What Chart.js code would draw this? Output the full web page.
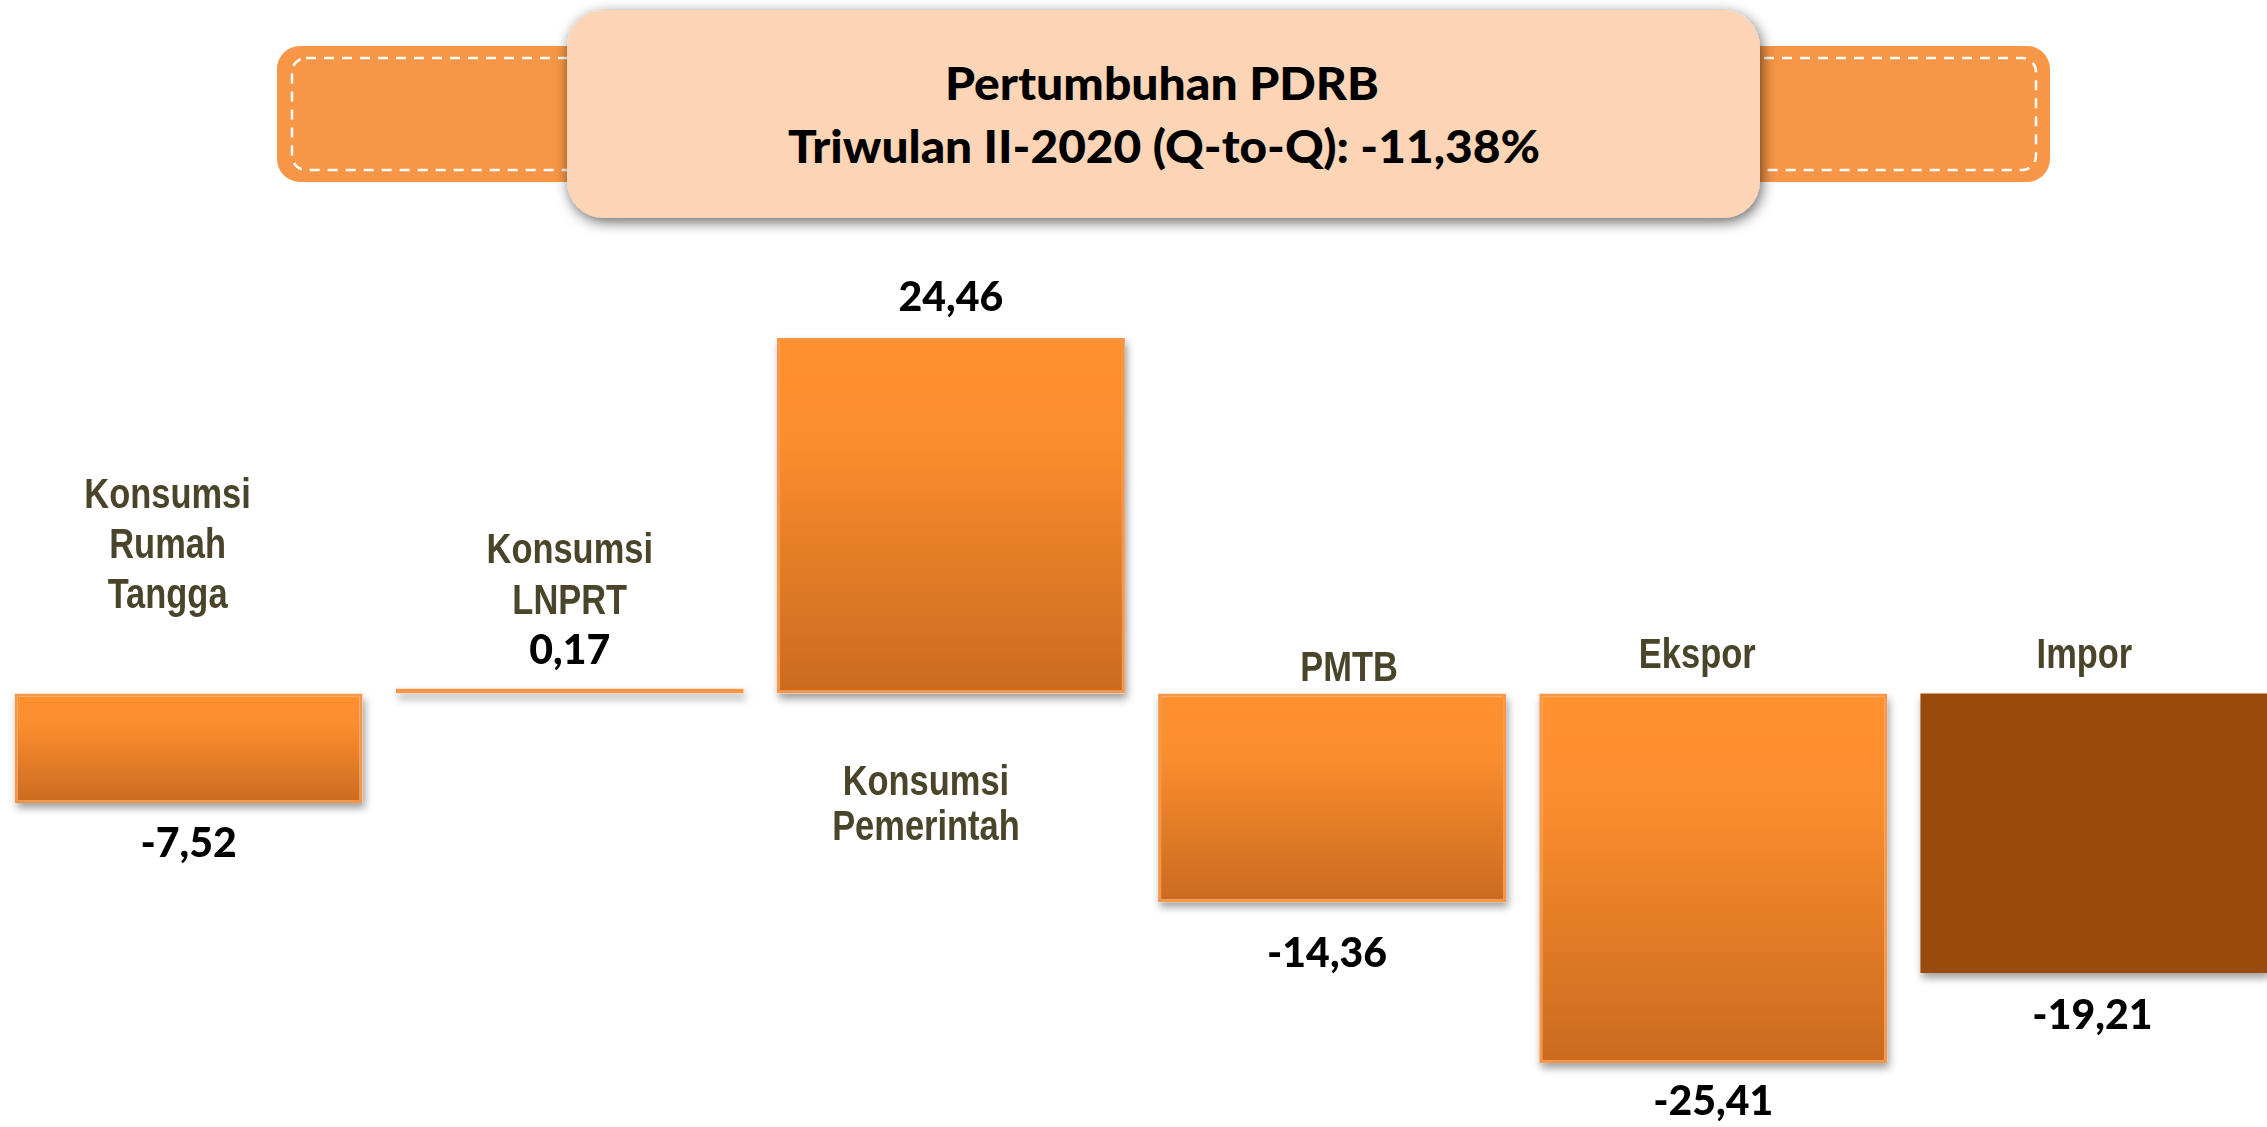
<!DOCTYPE html>
<html>
<head>
<meta charset="utf-8">
<script src="https://cdn.jsdelivr.net/npm/chart.js@4.4.1/dist/chart.umd.min.js"></script>
<style>
  html, body { margin: 0; padding: 0; background: #fff; overflow: hidden; }
  #wrap { position: relative; width: 2267px; height: 1127px; overflow: hidden; }
  #banner { position: absolute; left: 0; top: 0; z-index: 0; }
  #chart { position: absolute; left: -2px; top: 0; z-index: 1; }
</style>
</head>
<body>
<div id="wrap">
  <svg id="banner" width="2267" height="260" xmlns="http://www.w3.org/2000/svg">
    <defs>
      <filter id="shade" x="-10%" y="-30%" width="120%" height="160%">
        <feDropShadow dx="2" dy="4" stdDeviation="7" flood-color="#000" flood-opacity="0.6"/>
      </filter>
    </defs>
    <rect x="277" y="46" width="1773" height="136" rx="23" fill="#F79646"/>
    <rect x="292" y="58" width="1744" height="112" rx="14" fill="none" stroke="#fff" stroke-width="2.5" stroke-dasharray="10 8"/>
    <rect x="567" y="10" width="1193" height="208" rx="37" fill="#FBD5B5" filter="url(#shade)"/>
    <text id="t1" x="1162" y="100" text-anchor="middle" textLength="434" lengthAdjust="spacingAndGlyphs"
          font-family="Lato, 'Open Sans', sans-serif" font-weight="900" font-size="45" fill="#000"></text>
    <text id="t2" x="1164" y="163" text-anchor="middle" textLength="752" lengthAdjust="spacingAndGlyphs"
          font-family="Lato, 'Open Sans', sans-serif" font-weight="900" font-size="45" fill="#000"></text>
  </svg>
  <canvas id="chart" width="2287" height="1127"></canvas>
</div>
<script>
// Pertumbuhan PDRB menurut pengeluaran, Q-to-Q (%)
const titleLines = ['Pertumbuhan PDRB', 'Triwulan II-2020 (Q-to-Q): -11,38%'];
const categories = [
    ['Konsumsi', 'Rumah', 'Tangga'],
    ['Konsumsi', 'LNPRT'],
    ['Konsumsi', 'Pemerintah'],
    ['PMTB'],
    ['Ekspor'],
    ['Impor']
];
const growth = [-7.52, 0.17, 24.46, -14.36, -25.41, -19.21];

document.getElementById('t1').textContent = titleLines[0];
document.getElementById('t2').textContent = titleLines[1];

const orangeTop = '#FF912F';
const orangeBottom = '#CB6A1F';
const imporColor = '#9A4A0A';

function fmt(v) {
    return v.toFixed(2).replace('.', ',');
}

// soft drop shadow behind every bar
const barShadow = {
    id: 'barShadow',
    beforeDatasetsDraw(chart) {
        const ctx = chart.ctx;
        const meta = chart.getDatasetMeta(0);
        ctx.save();
        ctx.shadowColor = 'rgba(0,0,0,0.38)';
        ctx.shadowBlur = 8;
        ctx.shadowOffsetX = 2;
        ctx.shadowOffsetY = 5;
        ctx.fillStyle = '#fff';
        meta.data.forEach(bar => {
            const p = bar.getProps(['x', 'y', 'base', 'width'], true);
            const top = Math.min(p.y, p.base);
            const h = Math.max(Math.abs(p.base - p.y), 5);
            ctx.fillRect(p.x - p.width / 2, top, p.width, h);
        });
        ctx.restore();
    }
};

// value labels and category names
const barLabels = {
    id: 'barLabels',
    afterDatasetsDraw(chart, args, opts) {
        const ctx = chart.ctx;
        const meta = chart.getDatasetMeta(0);
        const xScale = chart.scales.x;
        ctx.save();
        ctx.textAlign = 'center';

        // values
        ctx.fillStyle = '#000';
        ctx.font = '900 41px Lato, "Open Sans", sans-serif';
        ctx.textBaseline = 'middle';
        meta.data.forEach((bar, i) => {
            const p = bar.getProps(['x', 'y', 'base'], true);
            const v = growth[i];
            const end = v >= 0 ? Math.min(p.y, p.base - 5) : p.y;
            const y = v >= 0 ? end - opts.valueGap[i] : end + opts.valueGap[i];
            ctx.fillText(fmt(v), p.x + opts.valueDx[i], y);
        });

        // category names (narrow bold sans)
        ctx.fillStyle = '#4A452A';
        ctx.font = 'bold 42px "Liberation Sans", Arial, sans-serif';
        ctx.textBaseline = 'alphabetic';
        categories.forEach((lines, i) => {
            const cx = xScale.getPixelForValue(i) + opts.nameDx[i];
            lines.forEach((line, k) => {
                const y = opts.nameY[i] + k * opts.nameStep[i];
                ctx.save();
                ctx.translate(cx, y);
                ctx.scale(0.82, 1);
                ctx.fillText(line, 0, 0);
                ctx.restore();
            });
        });
        ctx.restore();
    }
};

const ctx = document.getElementById('chart').getContext('2d');
new Chart(ctx, {
    type: 'bar',
    data: {
        labels: categories.map(c => c.join(' ')),
        datasets: [{
            data: growth,
            backgroundColor: (c) => {
                if (c.dataIndex === 5) return imporColor;
                const yScale = c.chart.scales.y;
                if (!yScale || c.type !== 'data') return orangeTop;
                const v = growth[c.dataIndex];
                const top = yScale.getPixelForValue(Math.max(v, 0));
                let bottom = yScale.getPixelForValue(Math.min(v, 0));
                if (!isFinite(top) || !isFinite(bottom)) return orangeTop;
                if (bottom - top < 5) bottom = top + 5;
                const g = c.chart.ctx.createLinearGradient(0, top, 0, bottom);
                g.addColorStop(0, orangeTop);
                g.addColorStop(0.3, '#FA8D2E');
                g.addColorStop(1, orangeBottom);
                return g;
            },
            borderColor: ['#F79646', '#F79646', '#F79646', '#F79646', '#F79646', imporColor],
            borderWidth: [3, 3, 3, 3, 3, 0],
            borderSkipped: false,
            barPercentage: 0.913,
            categoryPercentage: 1,
            minBarLength: 5
        }]
    },
    options: {
        responsive: false,
        animation: false,
        devicePixelRatio: 1,
        layout: { padding: 0 },
        plugins: {
            legend: { display: false },
            tooltip: { enabled: false },
            barLabels: {
                valueGap: [41, 38, 40, 51, 39, 43],
                valueDx: [0, 0, 0, -5, 0, -2],
                nameDx: [-21, 0, -25, 17, -16, -10],
                nameY: [508, 563, 795, 681, 668, 668],
                nameStep: [50, 51, 45, 0, 0, 0]
            }
        },
        scales: {
            x: { display: false },
            y: { display: false, min: -29.81, max: 47.70 }
        }
    },
    plugins: [barShadow, barLabels]
});
</script>
</body>
</html>
